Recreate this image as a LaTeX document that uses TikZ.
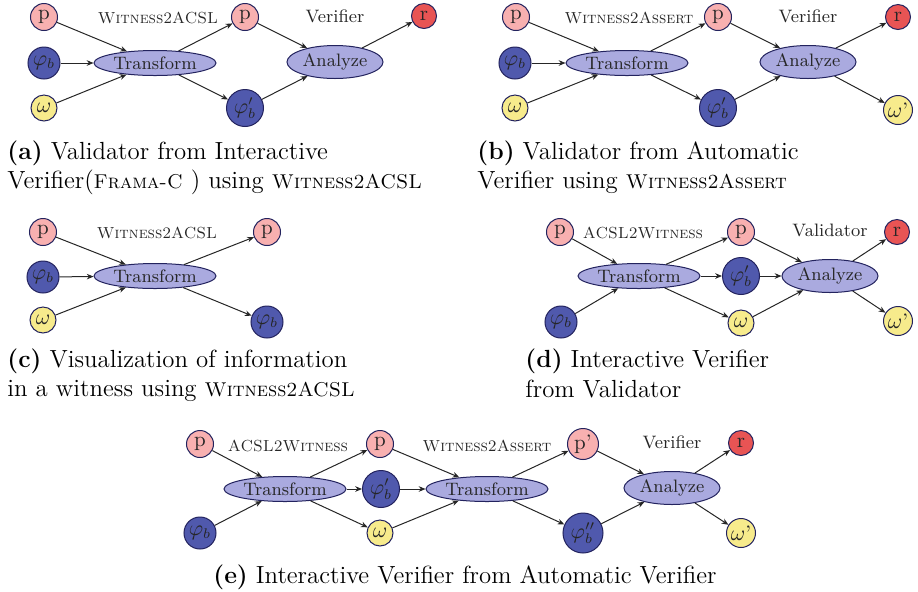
\documentclass[tikz,border=0pt]{standalone}
\usepackage{graphicx}
\usetikzlibrary{arrows.meta,shapes.geometric}
\definecolor{pfill}{HTML}{F8B0B0}
\definecolor{rfill}{HTML}{E85454}
\definecolor{bfill}{HTML}{5059AD}
\definecolor{wfill}{HTML}{F7EB8C}
\definecolor{efill}{HTML}{AAAADF}
\definecolor{edgec}{HTML}{23235E}
\definecolor{txt}{HTML}{262626}
\newcommand{\capsc}[1]{{\fontsize{10}{12}\selectfont\textsc{#1}}}
\begin{document}
\begin{tikzpicture}[x=0.5pt,y=-0.5pt,
  nd/.style={circle,draw=edgec,line width=0.5pt,inner sep=0.5pt,text=txt,font=\fontsize{10.5}{12}\selectfont},
  pn/.style={nd,fill=pfill,minimum size=13.5pt},
  pq/.style={nd,fill=pfill,minimum size=15.5pt},
  rn/.style={nd,fill=rfill,minimum size=12.5pt},
  bn/.style={nd,fill=bfill,minimum size=16pt},
  bq/.style={nd,fill=bfill,minimum size=18.5pt},
  bqq/.style={nd,fill=bfill,minimum size=20pt},
  wn/.style={nd,fill=wfill,minimum size=13pt},
  wq/.style={nd,fill=wfill,minimum size=14.5pt},
  tr/.style={ellipse,draw=edgec,fill=efill,line width=0.5pt,inner sep=0pt,minimum width=61pt,minimum height=12.5pt,text=txt,font=\fontsize{9}{11}\selectfont},
  an/.style={tr,minimum width=48pt,minimum height=16.5pt},
  lab/.style={inner sep=0pt,text=txt,font=\fontsize{9}{11}\selectfont},
  sclab/.style={inner sep=0pt,text=txt,font=\fontsize{8}{10}\selectfont},
  captxt/.style={anchor=base west,inner sep=0pt,font=\fontsize{12.4}{14}\selectfont},
  arr/.style={-{Stealth[length=3.4pt,width=2.8pt]},line width=0.5pt,draw=black!85}
]
\useasboundingbox (0,0) rectangle (918,591);
% ---------- (a)
\node[pn] (ap) at (44,17) {p};
\node[bn] (afb) at (44,63) {$\varphi_b$};
\node[wn] (aw) at (44,108) {$\omega$};
\node[tr] (aT) at (155,63) {Transform};
\node[sclab] (alab) at (158,18) {\textsc{Witness2ACSL}};
\node[pn] (ap2) at (245,17) {p};
\node[bq] (afb2) at (245,108) {$\varphi'_b$};
\node[an] (aA) at (335,62) {Analyze};
\node[lab] (avl) at (335,16) {Verifier};
\node[rn] (ar) at (424,16) {r};
\draw[arr] (ap) -- (aT);
\draw[arr] (afb) -- (aT);
\draw[arr] (aw) -- (aT);
\draw[arr] (aT) -- (ap2);
\draw[arr] (aT) -- (afb2);
\draw[arr] (ap2) -- (aA);
\draw[arr] (afb2) -- (aA);
\draw[arr] (aA) -- (ar);
\node[captxt] (acap1) at (7,159) {\textbf{(a)} Validator from Interactive};
\node[captxt] (acap2) at (7,188) {Verifier(\capsc{Frama-C} ) using \capsc{Witness2ACSL}};
% ---------- (b)
\node[pn] (bp) at (516,17) {p};
\node[bn] (bfb) at (515,63) {$\varphi_b$};
\node[wn] (bw) at (515,108) {$\omega$};
\node[tr] (bT) at (627,63) {Transform};
\node[sclab] (blab) at (629,18) {\textsc{Witness2Assert}};
\node[pn] (bp2) at (718,17) {p};
\node[bq] (bfb2) at (718,108) {$\varphi'_b$};
\node[an] (bA) at (808,62) {Analyze};
\node[lab] (bvl) at (808,16) {Verifier};
\node[rn] (br) at (898,17) {r};
\node[wq] (bw2) at (898,110) {$\omega$'};
\draw[arr] (bp) -- (bT);
\draw[arr] (bfb) -- (bT);
\draw[arr] (bw) -- (bT);
\draw[arr] (bT) -- (bp2);
\draw[arr] (bT) -- (bfb2);
\draw[arr] (bp2) -- (bA);
\draw[arr] (bfb2) -- (bA);
\draw[arr] (bA) -- (br);
\draw[arr] (bA) -- (bw2);
\node[captxt] (bcap1) at (477,159) {\textbf{(b)} Validator from Automatic};
\node[captxt] (bcap2) at (477,188) {Verifier using \capsc{Witness2Assert}};
% ---------- (c)
\node[pn] (cp) at (43,232) {p};
\node[bn] (cfb) at (43,277) {$\varphi_b$};
\node[wn] (cw) at (43,320) {$\omega$};
\node[tr] (cT) at (155,276) {Transform};
\node[sclab] (clab) at (157,233) {\textsc{Witness2ACSL}};
\node[pn] (cp2) at (267,232) {p};
\node[bn] (cfb2) at (267,322) {$\varphi_b$};
\draw[arr] (cp) -- (cT);
\draw[arr] (cfb) -- (cT);
\draw[arr] (cw) -- (cT);
\draw[arr] (cT) -- (cp2);
\draw[arr] (cT) -- (cfb2);
\node[captxt] (ccap1) at (7,367) {\textbf{(c)} Visualization of information};
\node[captxt] (ccap2) at (7,396) {in a witness using \capsc{Witness2ACSL}};
% ---------- (d)
\node[pn] (dp) at (560,232) {p};
\node[bn] (dfb) at (561,322) {$\varphi_b$};
\node[tr] (dT) at (639,276) {Transform};
\node[sclab] (dlab) at (643,233) {\textsc{ACSL2Witness}};
\node[pn] (dp2) at (741,232) {p};
\node[bq] (dfb2) at (741,276) {$\varphi'_b$};
\node[wn] (dw) at (741,323) {$\omega$};
\node[an] (dA) at (830,276) {Analyze};
\node[lab] (dvl) at (830,230) {Validator};
\node[rn] (dr) at (897,232) {r};
\node[wq] (dw2) at (898,321) {$\omega$'};
\draw[arr] (dp) -- (dT);
\draw[arr] (dfb) -- (dT);
\draw[arr] (dT) -- (dp2);
\draw[arr] (dT) -- (dfb2);
\draw[arr] (dT) -- (dw);
\draw[arr] (dp2) -- (dA);
\draw[arr] (dfb2) -- (dA);
\draw[arr] (dw) -- (dA);
\draw[arr] (dA) -- (dr);
\draw[arr] (dA) -- (dw2);
\node[captxt] (dcap1) at (525,367) {\textbf{(d)} Interactive Verifier};
\node[captxt] (dcap2) at (525,397) {from Validator};
% ---------- (e)
\node[pn] (ep) at (200,444) {p};
\node[bn] (efb) at (200,533) {$\varphi_b$};
\node[tr] (eT1) at (285,489) {Transform};
\node[sclab] (elab1) at (288,446) {\textsc{ACSL2Witness}};
\node[pn] (ep2) at (380,444) {p};
\node[bq] (efb2) at (381,489) {$\varphi'_b$};
\node[wn] (ew) at (380,533) {$\omega$};
\node[tr] (eT2) at (487,489) {Transform};
\node[sclab] (elab2) at (487,446) {\textsc{Witness2Assert}};
\node[pq] (ep3) at (583,444) {p'};
\node[bqq] (efb3) at (583,533) {$\varphi''_b$};
\node[an] (eA) at (672,488) {Analyze};
\node[lab] (evl) at (672,442) {Verifier};
\node[rn] (er) at (741,443) {r};
\node[wq] (ew2) at (741,533) {$\omega$'};
\draw[arr] (ep) -- (eT1);
\draw[arr] (efb) -- (eT1);
\draw[arr] (eT1) -- (ep2);
\draw[arr] (eT1) -- (efb2);
\draw[arr] (eT1) -- (ew);
\draw[arr] (ep2) -- (eT2);
\draw[arr] (efb2) -- (eT2);
\draw[arr] (ew) -- (eT2);
\draw[arr] (eT2) -- (ep3);
\draw[arr] (eT2) -- (efb3);
\draw[arr] (ep3) -- (eA);
\draw[arr] (efb3) -- (eA);
\draw[arr] (eA) -- (er);
\draw[arr] (eA) -- (ew2);
\node[captxt] (ecap) at (213,583) {\textbf{(e)} Interactive Verifier from Automatic Verifier};
\end{tikzpicture}
\end{document}
